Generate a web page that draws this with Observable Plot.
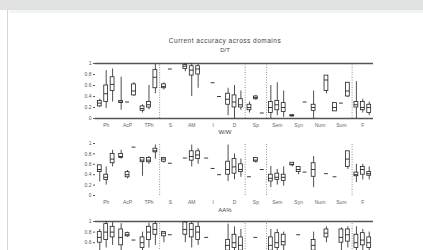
<!DOCTYPE html>
<html>
<head>
<meta charset="utf-8">
<script src="https://cdn.jsdelivr.net/npm/d3@7"></script>
<script src="https://cdn.jsdelivr.net/npm/@observablehq/plot@0.6"></script>
<style>
  html, body { margin: 0; padding: 0; width: 423px; height: 250px; overflow: hidden; background: #fff;
    font-family: "Liberation Sans", "DejaVu Sans", sans-serif; }
  #bar { position: absolute; left: 0; top: 0; width: 423px; height: 10px; background: #e1e1e1; }
  #strip { position: absolute; left: 9px; top: 10px; width: 414px; height: 3px; background: #eef6f8; }
  #edge { position: absolute; left: 7px; top: 10px; width: 1px; height: 240px; background: #d6d6d6; }
  .t { position: absolute; left: 0; width: 450px; text-align: center; color: #444; white-space: nowrap; }
  .p { position: absolute; left: 0; }
</style>
</head>
<body>
<div id="bar"></div><div id="strip"></div><div id="edge"></div>
<div class="t" style="top:37px;font-size:6.5px;letter-spacing:0.5px;">Current accuracy across domains</div>
<div class="t" style="top:47px;font-size:6px;" id="t1"></div>
<div class="p" style="top:55px" id="p1"></div>
<div class="t" style="top:129px;font-size:6px;" id="t2"></div>
<div class="p" style="top:135px" id="p2"></div>
<div class="t" style="top:207px;font-size:6px;" id="t3"></div>
<div class="p" style="top:213px;height:37px;overflow:hidden" id="p3"></div>
<script>
const categories = ["Ph","AcP","TPh","S","AM","I","D","Sp","Sem","Syn","Num","Sum","F"];
const panelTitles = ["D/T", "W/W", "AA%"];
const yTicks = [0, 0.2, 0.4, 0.6, 0.8, 1];
const yTicksTop = [0.6, 0.8, 1];
const groupBreaks = [2.5, 6.5, 7.5, 11.5];

// [min, q1, median, q3, max] per category; single value = constant; null = none
const dtModelA = [[0.2,0.22,0.28,0.32,0.35],[0.15,0.28,0.3,0.32,0.75],[0.1,0.14,0.18,0.22,0.25],[0.52,0.55,0.58,0.62,0.65],[0.85,0.9,0.95,0.97,1.0],null,[0.05,0.25,0.35,0.45,0.55],[0.1,0.15,0.2,0.25,0.3],[0.0,0.1,0.2,0.3,0.6],[0.03,0.04,0.05,0.06,0.07],[0.0,0.14,0.2,0.25,0.5],[0.13,0.13,0.2,0.28,0.28],[0.0,0.2,0.25,0.3,0.67]];
const dtModelB = [[0.18,0.3,0.45,0.6,0.87],[0.3],[0.16,0.2,0.25,0.3,0.6],[0.9],[0.4,0.78,0.88,0.95,1.0],[0.65],[0.0,0.2,0.3,0.42,0.6],[0.33,0.35,0.38,0.4,0.42],[0.05,0.15,0.25,0.32,0.65],null,null,[0.28],[0.1,0.15,0.2,0.3,0.35]];
const dtModelC = [[0.3,0.5,0.62,0.75,0.9],[0.4,0.42,0.5,0.62,0.65],[0.45,0.55,0.75,0.88,0.98],null,[0.55,0.8,0.9,0.95,0.98],[0.4],[0.15,0.2,0.25,0.35,0.5],[0.1],[0.02,0.12,0.2,0.28,0.5],[0.3],[0.45,0.5,0.7,0.78,0.78],[0.38,0.4,0.5,0.65,0.65],[0.05,0.1,0.2,0.25,0.3]];

const wwModelA = [[0.26,0.45,0.5,0.58,0.58],[0.7,0.72,0.75,0.8,0.87],[0.37,0.64,0.68,0.72,0.72],[0.62,0.65,0.7,0.72,0.72],[0.72],[0.72],[0.27,0.4,0.5,0.65,0.97],[0.36],[0.15,0.27,0.33,0.4,0.56],[0.55,0.58,0.6,0.63,0.63],[0.15,0.36,0.5,0.62,0.75],[0.36],[0.25,0.37,0.4,0.44,0.6]];
const wwModelB = [[0.2,0.3,0.35,0.4,0.55],[0.32,0.35,0.4,0.45,0.48],[0.6,0.64,0.68,0.72,0.75],[0.62],[0.55,0.67,0.75,0.85,0.97],[0.52],[0.3,0.42,0.55,0.7,0.8],[0.62,0.65,0.68,0.72,0.72],[0.2,0.3,0.35,0.42,0.5],[0.4,0.45,0.5,0.55,0.55],null,null,[0.3,0.4,0.5,0.55,0.6]];
const wwModelC = [[0.55,0.62,0.7,0.8,0.87],[0.93],[0.7,0.83,0.86,0.9,0.97],null,[0.6,0.7,0.78,0.85,0.9],[0.4],[0.35,0.45,0.5,0.6,0.7],[0.5],[0.18,0.28,0.35,0.4,0.55],[0.45],[0.42],[0.5,0.55,0.7,0.85,0.85],[0.3,0.38,0.42,0.45,0.55]];

const aaModelA = [[0.4,0.6,0.7,0.8,0.85],[0.4,0.55,0.7,0.85,0.96],[0.3,0.5,0.6,0.7,0.8],[0.6,0.72,0.78,0.8,0.8],[0.6,0.75,0.85,0.98,1.0],[0.7],[0.2,0.45,0.55,0.65,0.95],null,[0.3,0.45,0.55,0.7,0.85],null,[0.3,0.45,0.55,0.65,0.8],null,[0.3,0.5,0.6,0.75,0.9]];
const aaModelB = [[0.5,0.65,0.8,0.95,1.0],[0.7,0.72,0.75,0.78,0.8],[0.5,0.65,0.8,0.9,0.97],[0.75],[0.5,0.7,0.85,0.95,1.0],null,[0.3,0.5,0.6,0.75,0.9],[0.7],[0.35,0.5,0.6,0.78,0.85],[0.75],null,[0.3,0.6,0.7,0.85,0.88],[0.4,0.55,0.65,0.78,0.85]];
const aaModelC = [[0.55,0.7,0.8,0.9,0.98],[0.65],[0.55,0.75,0.85,0.95,1.0],null,[0.55,0.65,0.8,0.9,0.98],null,[0.35,0.45,0.55,0.7,0.85],null,[0.4,0.55,0.62,0.75,0.8],null,[0.6,0.7,0.78,0.85,0.9],[0.5,0.62,0.75,0.85,0.9],[0.45,0.5,0.6,0.7,0.8]];

function toBoxes(models) {
  const out = [];
  models.forEach((arr, m) => arr.forEach((q, i) => {
    if (!q) return;
    const v = q.length === 1 ? [q[0], q[0], q[0], q[0], q[0]] : q;
    out.push({x: i + (m - 1) * 0.3, min: v[0], q1: v[1], med: v[2], q3: v[3], max: v[4]});
  }));
  return out;
}

function panel(models, frame, plotH, ticks, showX) {
  const data = toBoxes(models);
  const w = 0.09;
  return Plot.plot({
    width: 423, height: 8 + plotH + 12,
    marginLeft: 95, marginRight: 50, marginTop: 8, marginBottom: 12,
    x: {domain: [-0.5, 12.5], axis: null, label: null},
    y: {domain: [0, 1], axis: null, label: null},
    style: {fontSize: "5px", fontFamily: "Liberation Sans, DejaVu Sans, sans-serif", color: "#555", background: "transparent"},
    marks: [
      Plot.axisY({ticks, label: null, tickSize: 2, tickPadding: 2, tickFormat: d => String(d), stroke: "#555", fill: "#555"}),
      showX ? Plot.axisX({ticks: d3.range(categories.length), label: null, tickSize: 0, tickPadding: 5, tickFormat: i => categories[i], fill: "#666"}) : null,
      frame ? Plot.ruleY([0, 1], {stroke: "#555", strokeWidth: 1.3}) : null,
      Plot.ruleX(groupBreaks, {y1: 0, y2: 1, stroke: "#777", strokeWidth: 0.8, strokeDasharray: "1,1.5"}),
      Plot.ruleX(data, {x: "x", y1: "min", y2: "max", stroke: "#222", strokeWidth: 0.8}),
      Plot.rect(data, {x1: d => d.x - w, x2: d => d.x + w, y1: "q1", y2: "q3", fill: "#fff", stroke: "#222", strokeWidth: 0.8}),
      Plot.ruleY(data, {y: "med", x1: d => d.x - w, x2: d => d.x + w, stroke: "#222", strokeWidth: 0.9})
    ]
  });
}

document.getElementById("t1").textContent = panelTitles[0];
document.getElementById("t2").textContent = panelTitles[1];
document.getElementById("t3").textContent = panelTitles[2];
document.getElementById("p1").appendChild(panel([dtModelA, dtModelB, dtModelC], true, 55, yTicks, true));
document.getElementById("p2").appendChild(panel([wwModelA, wwModelB, wwModelC], false, 52, yTicks, true));
document.getElementById("p3").appendChild(panel([aaModelA, aaModelB, aaModelC], true, 53, yTicksTop, false));
</script>
</body>
</html>
